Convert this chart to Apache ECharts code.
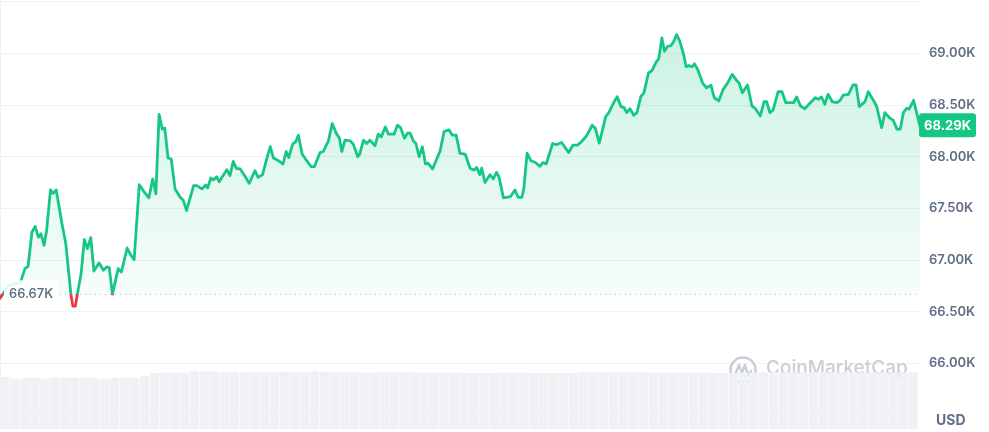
<!DOCTYPE html>
<html>
<head>
<meta charset="utf-8">
<script src="https://cdn.jsdelivr.net/npm/echarts@6/dist/echarts.min.js"></script>
<style>
  html, body { margin: 0; padding: 0; background: #ffffff; }
  #chart { width: 989px; height: 432px; }
</style>
</head>
<body>
<div id="chart"></div>
<script>
// Minutes since the start of the 24h window, and BTC price (USD) at those moments
const minutes = [0,14,32,39,44,50,55,60,64,69,73,79,83,88,97,103,111,114,118,121,127,132,137,142,147,155,162,167,171,176,185,190,199,205,210,218,225,233,239,244,249,254,258,263,268,274,282,287,292,303,308,316,322,325,330,334,339,343,348,355,360,365,370,376,383,390,399,404,411,416,423,428,436,443,448,452,458,463,467,473,480,487,492,501,506,514,520,527,531,535,540,548,553,560,563,569,574,579,587,592,597,603,608,617,622,627,633,638,642,647,651,656,661,666,670,677,689,695,703,708,714,720,728,736,742,746,751,754,759,767,772,777,781,788,799,806,811,817,820,825,831,838,845,850,855,865,871,879,890,897,904,910,918,927,932,938,948,953,962,966,972,977,981,986,992,997,1003,1008,1015,1020,1027,1031,1036,1040,1045,1050,1054,1059,1064,1070,1074,1078,1083,1087,1092,1100,1106,1113,1118,1125,1132,1139,1146,1153,1157,1162,1170,1177,1182,1190,1196,1200,1205,1210,1218,1224,1230,1242,1247,1253,1260,1265,1276,1281,1286,1291,1296,1303,1310,1315,1320,1328,1335,1340,1345,1354,1359,1367,1372,1380,1385,1393,1398,1404,1409,1414,1419,1423,1430,1433,1440];
const prices = [66630,66756,66782,66917,66939,67270,67325,67222,67254,67142,67286,67678,67645,67678,67351,67158,66667,66554,66554,66667,66869,67197,67110,67216,66894,66971,66901,66933,66927,66670,66917,66884,67116,67045,67004,67729,67665,67601,67784,67640,68410,68266,68276,67987,67977,67688,67607,67575,67479,67720,67720,67688,67726,67698,67794,67775,67806,67758,67806,67874,67816,67954,67886,67881,67816,67742,67864,67800,67826,67944,68098,67987,67961,67929,68050,67992,68121,68146,68208,68025,67961,67903,67903,68040,68050,68153,68320,68218,68185,68050,68160,68153,68121,67999,68025,68160,68127,68160,68105,68218,68192,68288,68218,68218,68304,68281,68179,68227,68227,68153,68127,67999,68095,67929,67938,67881,68057,68243,68259,68208,68208,68031,68025,67886,67871,67896,67826,67890,67751,67826,67784,67848,67806,67601,67614,67678,67607,67607,67698,68035,67961,67944,67906,67944,67929,68127,68115,68137,68040,68112,68112,68144,68201,68304,68272,68131,68387,68426,68539,68580,68484,68474,68426,68464,68401,68426,68580,68619,68811,68828,68914,68946,69148,69020,69068,69075,69107,69181,69117,68988,68869,68882,68869,68898,68844,68709,68667,68690,68570,68539,68651,68715,68796,68738,68709,68619,68693,68490,68468,68394,68532,68532,68426,68449,68628,68628,68522,68522,68577,68490,68464,68500,68570,68555,68577,68507,68603,68529,68522,68545,68596,68603,68693,68693,68484,68532,68628,68545,68490,68281,68426,68372,68353,68266,68266,68426,68468,68459,68545,68545,68290];
// Opening price reference line
const openPrice = 66670;
// Volume (relative units), one bar per ~15 minutes
const volumes = [66,64,64.5,64.5,64,65,64.5,64.5,65,64.5,64,64.5,65,64.5,67,71,71.5,71.5,71,73,73,73,72.5,72.5,72,72,72,72,72.5,72,72.5,73,72.5,72,72,72,71.5,71.5,72,72,72,71.5,71.5,71.5,71.5,71.5,71,71,71,71,71.5,71.5,71.5,71,71,71,71,71,72,72,72,72,72,72,72,71.5,71.5,71.5,71.5,71.5,71.5,71,71,71,71.5,71.5,71.5,72,72,72,72,72,72,72,72,72,72,72,72,72,72,72];
// Price axis ticks
const yMin = 65500, yMax = 69500, yStep = 500;

const chart = echarts.init(document.getElementById('chart'), null, { renderer: 'canvas' });
const FONT = 'Inter, "Noto Sans", sans-serif';
const green = '#16c784', red = '#ea3943';

const lineData = minutes.map((m, i) => [m, prices[i]]);
const lastPrice = prices[prices.length - 1];

const option = {
  animation: false,
  backgroundColor: '#ffffff',
  grid: [
    { left: 0, right: 69, top: 1.6, bottom: 16.9, containLabel: false },
    { left: 0, right: 71, top: 350, bottom: 3, containLabel: false }
  ],
  xAxis: [
    { type: 'value', gridIndex: 0, min: 0, max: 1440, show: false },
    { type: 'category', gridIndex: 1, data: volumes.map((_, i) => i), show: false }
  ],
  yAxis: [
    {
      type: 'value', gridIndex: 0, position: 'right',
      min: yMin, max: yMax, interval: yStep,
      axisLine: { show: true, lineStyle: { color: '#eff2f5', width: 1 } },
      axisTick: { show: false },
      splitLine: { show: true, lineStyle: { color: '#eff2f5', width: 1 } },
      axisLabel: {
        show: true, margin: 9, color: '#616e85', fontFamily: FONT, fontSize: 13, fontWeight: 600,
        showMinLabel: false, showMaxLabel: false,
        formatter: v => (v / 1000).toFixed(2) + 'K'
      }
    },
    { type: 'value', gridIndex: 1, min: 0, max: 100, show: false }
  ],
  series: [
    {
      type: 'line', xAxisIndex: 0, yAxisIndex: 0, data: lineData,
      showSymbol: false, symbol: 'none', smooth: false, z: 5,
      lineStyle: { width: 2.8, join: 'round', cap: 'round', color: green },
      areaStyle: {
        origin: openPrice,
        color: new echarts.graphic.LinearGradient(0, 0, 0, 1, [
          { offset: 0, color: 'rgba(22,199,132,0.32)' },
          { offset: 1, color: 'rgba(22,199,132,0.04)' }
        ])
      },
      markLine: {
        silent: true, symbol: 'none', animation: false,
        data: [
          {
            yAxis: openPrice,
            lineStyle: { color: '#a6b0c3', type: [1, 4], width: 1 },
            label: { show: false }
          }
        ]
      }
    },
    {
      type: 'bar', xAxisIndex: 1, yAxisIndex: 1, data: volumes,
      barCategoryGap: '6%', silent: true, z: 1,
      itemStyle: { color: '#eff1f4' }
    }
  ]
};
chart.setOption(option);

// Colour the price line red below the opening price, using the axis scale
const baseY = chart.convertToPixel({ xAxisIndex: 0, yAxisIndex: 0 }, [0, openPrice])[1];
const lastY = chart.convertToPixel({ xAxisIndex: 0, yAxisIndex: 0 }, [1440, lastPrice])[1];
const gridRight = chart.convertToPixel({ xAxisIndex: 0, yAxisIndex: 0 }, [1440, lastPrice])[0];
const H = chart.getHeight();
const split = baseY / H;
chart.setOption({
  series: [{
    lineStyle: {
      color: new echarts.graphic.LinearGradient(0, 0, 0, H, [
        { offset: 0, color: green }, { offset: split, color: green },
        { offset: split, color: red }, { offset: 1, color: red }
      ], true)
    }
  }],
  graphic: [
    {
      type: 'text', left: 4, top: baseY - 14, z: 100,
      style: {
        text: (openPrice / 1000).toFixed(2) + 'K', fill: '#58667e', font: '500 13px ' + FONT,
        backgroundColor: 'rgba(255,255,255,0.88)', padding: [7, 5, 6, 5]
      }
    },
    {
      type: 'group', left: gridRight - 1, top: lastY - 13.5, z: 100,
      children: [
        { type: 'rect', shape: { x: 0, y: 0, width: 57, height: 24, r: 3 }, style: { fill: green } },
        { type: 'text', x: 28.5, y: 12.5, style: {
            text: (lastPrice / 1000).toFixed(2) + 'K', fill: '#ffffff', font: '700 13px ' + FONT,
            align: 'center', verticalAlign: 'middle' } }
      ]
    },
    {
      type: 'text', left: 936, top: 414, z: 100,
      style: { text: 'USD', fill: '#616e85', font: '700 14px ' + FONT }
    },
    {
      type: 'group', left: 728, top: 355, z: 50,
      children: [
        { type: 'circle', shape: { cx: 14, cy: 14, r: 12.5 }, style: { fill: 'none', stroke: '#c9ced6', lineWidth: 2.6 } },
        { type: 'polyline', shape: { points: [[6, 19], [10, 9], [13, 17], [16, 9], [19, 19], [22, 15]] },
          style: { fill: 'none', stroke: '#c9ced6', lineWidth: 2.4, lineJoin: 'round', lineCap: 'round' } },
        { type: 'text', x: 37, y: 3, style: { text: 'CoinMarketCap', fill: '#c9ced6', font: '500 19px ' + FONT } }
      ]
    }
  ]
});
</script>
</body>
</html>
